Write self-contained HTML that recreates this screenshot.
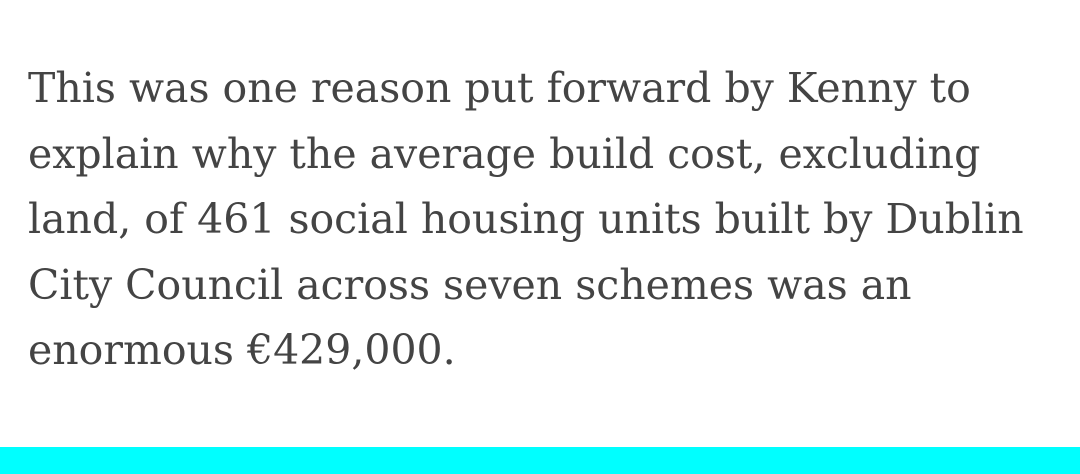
<!DOCTYPE html>
<html><head><meta charset="utf-8">
<style>
html,body{margin:0;padding:0;background:#fff;width:1080px;height:474px;overflow:hidden;}
.txt{position:absolute;left:28px;top:56px;font-family:"DejaVu Serif","Liberation Serif",serif;font-size:41px;line-height:65.5px;color:#444;white-space:nowrap;}
.bar{position:absolute;left:0;top:447px;width:1080px;height:27px;background:#00ffff;}
</style></head>
<body>
<div class="txt">This was one reason put forward by Kenny to<br>explain why the average build cost, excluding<br>land, of 461 social housing units built by Dublin<br>City Council across seven schemes was an<br>enormous €429,000.</div>
<div class="bar"></div>
</body></html>
